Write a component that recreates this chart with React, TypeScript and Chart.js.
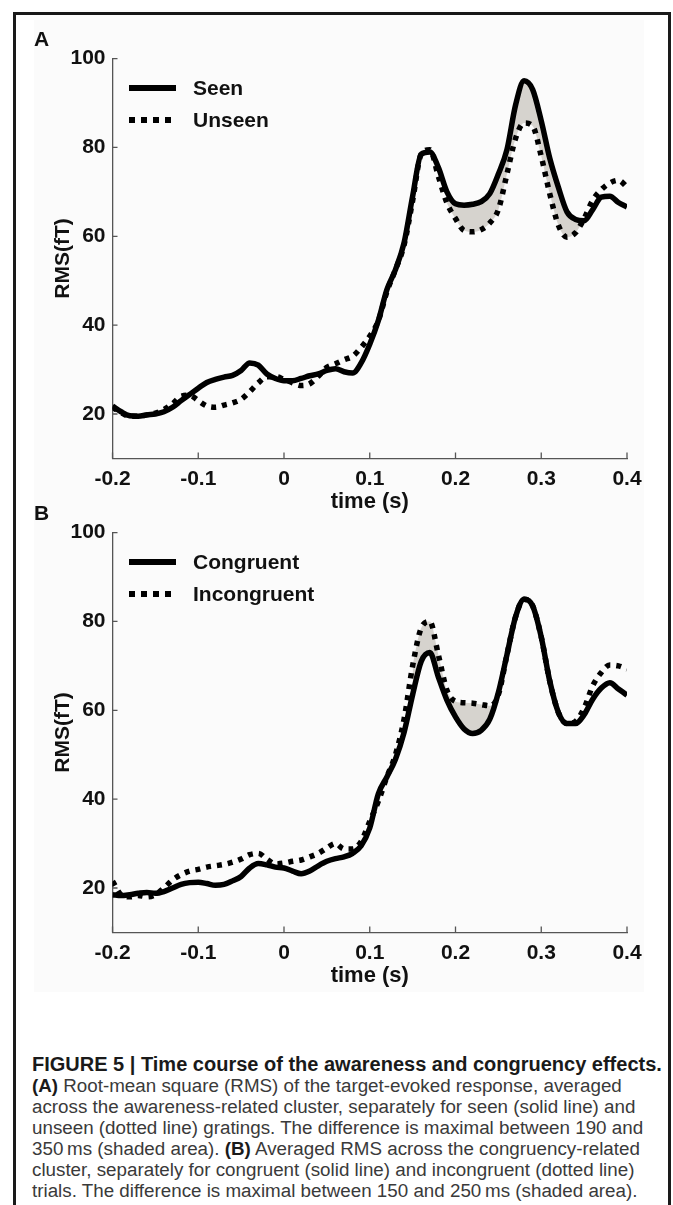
import React, { useEffect, useRef } from "react";
import { Chart, registerables } from "chart.js";

Chart.register(...registerables);

// ---------- data ----------
const times = [
  -0.2, -0.19, -0.18, -0.17, -0.16, -0.15, -0.14, -0.13, -0.12, -0.11,
  -0.1, -0.09, -0.08, -0.07, -0.06, -0.05, -0.04, -0.03, -0.02, -0.01,
  0.0, 0.01, 0.02, 0.03, 0.04, 0.05, 0.06, 0.07, 0.08, 0.09,
  0.1, 0.11, 0.12, 0.13, 0.14, 0.15, 0.16, 0.17, 0.18, 0.19,
  0.2, 0.21, 0.22, 0.23, 0.24, 0.25, 0.26, 0.27, 0.28, 0.29,
  0.3, 0.31, 0.32, 0.33, 0.34, 0.35, 0.36, 0.37, 0.38, 0.39, 0.4,
];

const seen = [
  21.8, 20.5, 19.6, 19.5, 19.8, 20.0, 20.5, 21.5, 23.0, 24.4,
  25.8, 27.1, 27.8, 28.3, 28.7, 29.8, 31.5, 31.0, 29.0, 28.0,
  27.5, 27.5, 28.0, 28.6, 29.0, 29.8, 30.2, 29.5, 29.2, 31.5,
  35.7, 41.0, 48.0, 52.5, 58.5, 69.0, 78.5, 79.0, 75.5, 70.0,
  67.3, 67.0, 67.2, 67.8, 69.6, 74.0, 79.5, 89.5, 95.0, 93.0,
  86.0, 77.5, 71.0, 65.5, 63.8, 63.5, 66.0, 68.8, 69.0, 67.6, 66.6,
];

const unseen = [
  21.5, 20.3, 19.5, 19.5, 19.8, 20.2, 21.0, 22.3, 24.0, 24.2,
  23.0, 21.8, 21.5, 22.0, 22.5, 23.3, 25.0, 27.0, 28.4, 28.4,
  27.8, 27.0, 26.4, 26.8, 28.5, 30.5, 31.3, 32.2, 33.0, 35.0,
  37.5, 41.0, 47.5, 52.5, 58.0, 68.0, 78.5, 79.5, 73.5, 67.5,
  64.0, 61.3, 61.0, 61.5, 63.0, 66.0, 74.0, 82.0, 85.5, 84.8,
  78.0, 69.5, 62.5, 59.8, 60.8, 64.0, 68.1, 70.5, 72.0, 72.6, 71.1,
];

const congruent = [
  18.5, 18.3, 18.5, 18.8, 19.0, 18.8, 19.2, 20.0, 20.8, 21.2,
  21.3, 21.0, 20.6, 20.8, 21.6, 22.6, 24.5, 25.5, 25.2, 24.7,
  24.5, 23.8, 23.2, 23.8, 25.0, 26.0, 26.6, 27.0, 27.8, 29.5,
  33.5, 41.2, 45.0, 49.0, 55.0, 63.5, 71.0, 73.0, 67.5, 62.3,
  58.5, 55.8, 54.8, 55.5, 58.0, 64.0, 72.5, 81.0, 85.0, 83.5,
  76.5, 66.5, 59.5, 57.0, 57.0, 59.0, 62.5, 65.0, 66.2, 64.8, 63.4,
];

const incongruent = [
  21.5, 18.5, 18.0, 18.3, 18.0, 18.5, 20.0, 21.8, 23.0, 23.8,
  24.2, 24.7, 25.0, 25.3, 25.8, 26.5, 27.5, 27.8, 26.5, 25.4,
  25.6, 26.0, 26.3, 27.0, 27.8, 29.0, 30.0, 28.8, 28.8, 30.5,
  35.0, 39.5, 45.0, 50.0, 58.0, 70.0, 78.5, 80.0, 72.5, 64.5,
  62.0, 61.7, 61.6, 61.3, 61.0, 63.5, 72.5, 81.0, 85.0, 83.5,
  76.5, 66.5, 59.5, 57.0, 57.5, 60.5, 65.5, 68.5, 70.2, 70.0, 69.3,
];

const xTickValues = [-0.2, -0.1, 0, 0.1, 0.2, 0.3, 0.4];
const xTickLabels = ["-0.2", "-0.1", "0", "0.1", "0.2", "0.3", "0.4"];
const yTickValues = [20, 40, 60, 80, 100];
const yTickLabels = ["20", "40", "60", "80", "100"];

const panelALabels = ["Seen", "Unseen"];
const panelBLabels = ["Congruent", "Incongruent"];
const shadeA = [0.19, 0.35];
const shadeB = [0.15, 0.25];

const captionTitle = "FIGURE 5 | Time course of the awareness and congruency effects.";

// ---------- layout constants ----------
const FONT = "'Liberation Sans', Arial, Helvetica, sans-serif";
const CANVAS_W = 673;
const CANVAS_H = 515;
const PLOT_TOP = 58.6;
const PLOT_LEFT = 112.5;
const PLOT_RIGHT_PAD = 46;
const X_AXIS_H = 56.6;
const Y_TITLE_PAD_LEFT = 51;
const SHADE = "rgb(214,211,206)";
const AXIS_COLOR = "#555";

const tickMarks = {
  id: "tickMarks",
  afterDraw(chart: any) {
    const { ctx, chartArea, scales } = chart;
    ctx.save();
    ctx.strokeStyle = AXIS_COLOR;
    ctx.lineWidth = 1.3;
    ctx.beginPath();
    xTickValues.forEach((v) => {
      const x = scales.x.getPixelForValue(v);
      ctx.moveTo(x, chartArea.bottom);
      ctx.lineTo(x, chartArea.bottom - 6);
    });
    yTickValues.forEach((v) => {
      const y = scales.y.getPixelForValue(v);
      ctx.moveTo(chartArea.left, y);
      ctx.lineTo(chartArea.left + 5, y);
    });
    ctx.stroke();
    ctx.restore();
  },
};

function buildConfig(solid: number[], dotted: number[], labels: string[], shade: number[]) {
  const solidPts = times.map((t, i) => ({ x: t, y: solid[i] }));
  const dottedPts = times.map((t, i) => ({ x: t, y: dotted[i] }));
  const shadePts = times.map((t, i) => ({
    x: t,
    y: t >= shade[0] - 1e-9 && t <= shade[1] + 1e-9 ? solid[i] : null,
  }));
  return {
    type: "line",
    data: {
      datasets: [
        {
          label: labels[0],
          data: solidPts,
          borderColor: "#000",
          borderWidth: 5.5,
          pointRadius: 0,
          cubicInterpolationMode: "monotone",
          fill: false,
        },
        {
          label: labels[1],
          data: dottedPts,
          borderColor: "#000",
          borderWidth: 5.5,
          borderDash: [5, 6],
          borderCapStyle: "butt",
          pointRadius: 0,
          cubicInterpolationMode: "monotone",
          fill: false,
        },
        {
          label: "shade",
          data: shadePts,
          borderWidth: 0,
          borderColor: "rgba(0,0,0,0)",
          backgroundColor: SHADE,
          pointRadius: 0,
          cubicInterpolationMode: "monotone",
          spanGaps: false,
          fill: 1,
        },
      ],
    },
    options: {
      animation: false,
      responsive: false,
      maintainAspectRatio: false,
      layout: {
        padding: { top: PLOT_TOP, left: Y_TITLE_PAD_LEFT, right: PLOT_RIGHT_PAD, bottom: 0 },
      },
      plugins: {
        legend: { display: false },
        tooltip: { enabled: false },
      },
      scales: {
        x: {
          type: "linear",
          min: -0.2,
          max: 0.4,
          afterBuildTicks: (s: any) => {
            s.ticks = xTickValues.map((v) => ({ value: v }));
          },
          afterFit: (s: any) => {
            s.height = X_AXIS_H;
          },
          grid: { display: false, drawTicks: false },
          border: { display: true, color: AXIS_COLOR, width: 1.3 },
          ticks: {
            padding: 8,
            maxRotation: 0,
            autoSkip: false,
            color: "#111",
            font: { family: FONT, size: 21, weight: "bold" },
            callback: (v: number) => {
              const i = xTickValues.findIndex((t) => Math.abs(t - v) < 1e-9);
              return i >= 0 ? xTickLabels[i] : "";
            },
          },
          title: {
            display: true,
            text: "time (s)",
            color: "#111",
            padding: 0,
            font: { family: FONT, size: 22, weight: "bold", lineHeight: 1.15 },
          },
        },
        y: {
          type: "linear",
          min: 10,
          max: 100,
          afterBuildTicks: (s: any) => {
            s.ticks = yTickValues.map((v) => ({ value: v }));
          },
          afterFit: (s: any) => {
            s.width = PLOT_LEFT - Y_TITLE_PAD_LEFT;
          },
          grid: { display: false, drawTicks: false },
          border: { display: true, color: AXIS_COLOR, width: 1.3 },
          ticks: {
            padding: 7,
            color: "#111",
            font: { family: FONT, size: 21, weight: "bold" },
            callback: (v: number) => {
              const i = yTickValues.indexOf(v);
              return i >= 0 ? yTickLabels[i] : "";
            },
          },
          title: {
            display: true,
            text: "RMS(fT)",
            color: "#111",
            padding: 0,
            font: { family: FONT, size: 21, weight: "bold", lineHeight: 1.2 },
          },
        },
      },
    },
    plugins: [tickMarks],
  } as any;
}

function Panel(props: {
  top: number;
  letter: string;
  solid: number[];
  dotted: number[];
  labels: string[];
  shade: number[];
}) {
  const ref = useRef<HTMLCanvasElement | null>(null);
  useEffect(() => {
    if (!ref.current) return;
    const chart = new Chart(ref.current, buildConfig(props.solid, props.dotted, props.labels, props.shade));
    return () => chart.destroy();
  }, []);
  const legendTop = props.top + 88;
  return (
    <>
      <canvas
        ref={ref}
        width={CANVAS_W}
        height={CANVAS_H}
        style={{ position: "absolute", left: 0, top: props.top, width: CANVAS_W, height: CANVAS_H }}
      />
      <div
        style={{
          position: "absolute",
          left: 34,
          top: props.top + 27,
          font: `bold 21px ${FONT}`,
          color: "#111",
        }}
      >
        {props.letter}
      </div>
      {props.labels.map((lab, i) => (
        <div key={lab} style={{ position: "absolute", left: 129, top: legendTop + i * 32 - 13, height: 26, display: "flex", alignItems: "center" }}>
          <div
            style={{
              width: 47,
              height: 6,
              background:
                i === 0
                  ? "#000"
                  : "repeating-linear-gradient(to right, #000 0px, #000 6px, transparent 6px, transparent 12px)",
            }}
          />
          <div style={{ marginLeft: 17, font: `bold 21px ${FONT}`, color: "#111", whiteSpace: "nowrap" }}>{lab}</div>
        </div>
      ))}
    </>
  );
}

export default function App() {
  const dark = { color: "#1a1a1a" };
  return (
    <div style={{ position: "absolute", left: 0, top: 0, width: 673, height: 1205, overflow: "hidden", background: "#fff" }}>
      <div
        style={{
          position: "absolute",
          left: 13,
          top: 12,
          width: 673 - 13 - 2 - 6,
          height: 1300,
          border: "3px solid #1a1a1a",
        }}
      />
      <div style={{ position: "absolute", left: 34, top: 20, width: 610, height: 972, background: "#fbfbfb" }} />
      <Panel top={0} letter="A" solid={seen} dotted={unseen} labels={panelALabels} shade={shadeA} />
      <Panel top={474.4} letter="B" solid={congruent} dotted={incongruent} labels={panelBLabels} shade={shadeB} />
      <div
        style={{
          position: "absolute",
          left: 32,
          top: 1054,
          font: `18.8px ${FONT}`,
          lineHeight: "21px",
          color: "#3a3a3a",
          whiteSpace: "nowrap",
        }}
      >
        <div style={{ fontWeight: "bold", fontSize: 20, ...dark }}>{captionTitle}</div>
        <div><b style={dark}>(A)</b> Root-mean square (RMS) of the target-evoked response, averaged</div>
        <div>across the awareness-related cluster, separately for seen (solid line) and</div>
        <div>unseen (dotted line) gratings. The difference is maximal between 190 and</div>
        <div>350{"\u2009"}ms (shaded area). <b style={dark}>(B)</b> Averaged RMS across the congruency-related</div>
        <div>cluster, separately for congruent (solid line) and incongruent (dotted line)</div>
        <div>trials. The difference is maximal between 150 and 250{"\u2009"}ms (shaded area).</div>
      </div>
    </div>
  );
}
